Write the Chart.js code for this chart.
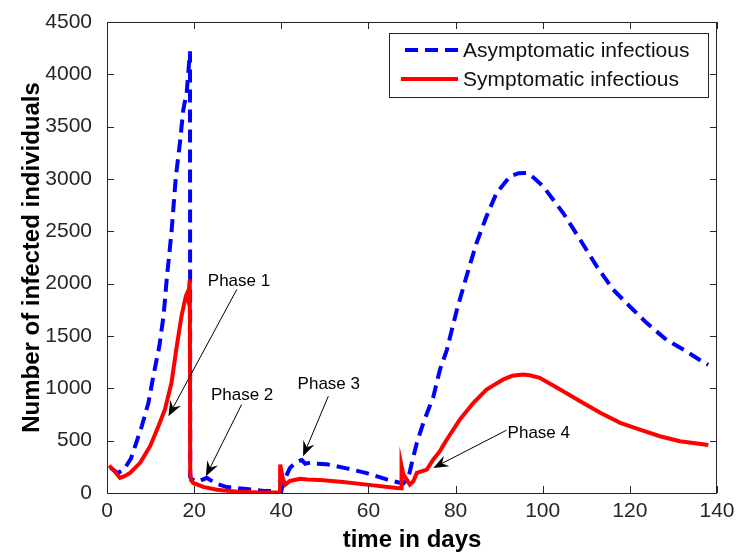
<!DOCTYPE html>
<html>
<head>
<meta charset="utf-8">
<script src="https://cdn.jsdelivr.net/npm/chart.js@4.4.1/dist/chart.umd.min.js"></script>
<style>
  html, body { margin: 0; padding: 0; background: #ffffff; }
  #wrap { width: 737px; height: 552px; }
</style>
</head>
<body>
<div id="wrap"><canvas id="c" width="737" height="552"></canvas></div>
<script>
// ---- data ----
const asymDays = [0.8, 2.5, 4, 5.5, 6.8, 8, 9.5, 10.6, 12, 13, 13.7, 14.8, 15.8, 16.75, 17.5, 18.3, 19.05,
  19.1, 19.5, 21, 22.9, 25, 27.5, 32, 36, 40,
  40.2, 41, 42, 43.5, 44.7, 45.5, 46.6, 48, 50.4, 55, 59.6, 64.2, 66.5, 68, 69.2, 70.2, 71.1, 72.6, 74.9,
  76.4, 78, 80.3, 82.5, 84.8, 87.1, 89.4, 92.5, 94.5, 96.3, 98, 100.1, 104.7, 108.6, 112.4, 116.2, 120,
  123.9, 128.4, 133, 137.2, 138];
const asymValues = [240, 190, 230, 330, 490, 640, 860, 1110, 1400, 1700, 2040, 2490, 3020, 3350, 3660, 3830, 4220,
  150, 130, 110, 145, 90, 57, 38, 20, 15,
  60, 150, 240, 300, 315, 280, 290, 280, 275, 235, 190, 130, 105, 90, 150, 330, 478, 670, 921,
  1176, 1368, 1750, 2069, 2388, 2643, 2866, 3025, 3055, 3058, 3010, 2930, 2675, 2420, 2165, 1942, 1782,
  1623, 1463, 1352, 1240, 1225];

const sympDays = [0.5, 1.5, 3, 4, 5.3, 7.6, 9.9, 11.8, 13.3, 14.8, 15.9, 17.1, 18.1, 18.3, 18.6, 19,
  19.1, 19.3, 19.8, 22.1, 25.2, 30, 35, 39.7,
  39.75, 40.3, 40.9, 42, 44.3, 46, 48.9, 54.2, 59.6, 66.5, 67.5,
  67.6, 68, 68.8, 69.5, 70.3, 71.1, 73.4, 74.9, 76.4, 78, 81, 84.1, 87.1, 90.9, 93, 95.5, 97, 99.3,
  104, 108.6, 113.2, 117.8, 122.3, 126.9, 131.5, 137.2, 138];
const sympValues = [262, 220, 145, 160, 192, 288, 447, 638, 798, 1053, 1372, 1690, 1881, 1900, 1850, 2040,
  200, 120, 96, 58, 32, 12, 5, 5,
  272, 150, 80, 115, 135, 128, 125, 105, 80, 48, 45,
  260, 180, 128, 80, 112, 192, 224, 320, 400, 511, 702, 862, 989, 1085, 1120, 1133, 1125, 1101,
  989, 877, 766, 670, 606, 542, 495, 463, 458];

const seriesNames = ['Asymptomatic infectious', 'Symptomatic infectious'];
const xTicks = [0, 20, 40, 60, 80, 100, 120, 140];
const yTicks = [0, 500, 1000, 1500, 2000, 2500, 3000, 3500, 4000, 4500];

// annotations (data coordinates)
const phaseLabels = ['Phase 1', 'Phase 2', 'Phase 3', 'Phase 4'];
const phaseTextX = [30.3, 31.0, 50.9, 99.1];
const phaseTextY = [2022, 935, 1037, 575];
const arrowFromX = [29.8, 30.9, 50.8, 91.7];
const arrowFromY = [1945, 846, 925, 600];
const arrowToX = [14.1, 22.7, 45.0, 74.9];
const arrowToY = [734, 160, 351, 240];

const toPts = (xs, ys) => xs.map((x, i) => ({ x: x, y: ys[i] }));

const AX = '#262626';
const FONT = '"Liberation Sans", Arial, sans-serif';

const overlay = {
  id: 'overlay',
  afterDatasetsDraw(chart) {
    const ctx = chart.ctx;
    const a = chart.chartArea;
    const xs = chart.scales.x, ys = chart.scales.y;
    ctx.save();
    // box
    ctx.strokeStyle = AX;
    ctx.lineWidth = 1;
    ctx.strokeRect(Math.round(a.left) + 0.5, Math.round(a.top) + 0.5,
      Math.round(a.right - a.left) - 1, Math.round(a.bottom - a.top));
    // inward ticks
    const tl = 7;
    ctx.beginPath();
    xTicks.forEach(v => {
      const px = Math.round(xs.getPixelForValue(v)) + 0.5;
      ctx.moveTo(px, a.bottom); ctx.lineTo(px, a.bottom - tl);
      ctx.moveTo(px, a.top); ctx.lineTo(px, a.top + tl);
    });
    yTicks.forEach(v => {
      const py = Math.round(ys.getPixelForValue(v)) + 0.5;
      ctx.moveTo(a.left, py); ctx.lineTo(a.left + tl, py);
      ctx.moveTo(a.right, py); ctx.lineTo(a.right - tl, py);
    });
    ctx.stroke();

    // annotations
    ctx.fillStyle = '#000';
    ctx.strokeStyle = '#000';
    ctx.font = '17px ' + FONT;
    ctx.textAlign = 'center';
    ctx.textBaseline = 'middle';
    phaseLabels.forEach((t, i) => {
      ctx.fillText(t, xs.getPixelForValue(phaseTextX[i]), ys.getPixelForValue(phaseTextY[i]));
      const x0 = xs.getPixelForValue(arrowFromX[i]), y0 = ys.getPixelForValue(arrowFromY[i]);
      const x1 = xs.getPixelForValue(arrowToX[i]), y1 = ys.getPixelForValue(arrowToY[i]);
      const ang = Math.atan2(y1 - y0, x1 - x0);
      const L = 15, W = 6;
      ctx.lineWidth = 1;
      ctx.beginPath();
      ctx.moveTo(x0, y0);
      ctx.lineTo(x1 - Math.cos(ang) * L * 0.6, y1 - Math.sin(ang) * L * 0.6);
      ctx.stroke();
      const bx = x1 - Math.cos(ang) * L, by = y1 - Math.sin(ang) * L;
      const nx = -Math.sin(ang), ny = Math.cos(ang);
      ctx.beginPath();
      ctx.moveTo(x1, y1);
      ctx.lineTo(bx + nx * W, by + ny * W);
      ctx.lineTo(x1 - Math.cos(ang) * L * 0.65, y1 - Math.sin(ang) * L * 0.65);
      ctx.lineTo(bx - nx * W, by - ny * W);
      ctx.closePath();
      ctx.fill();
    });

    // legend box
    const lx = 389.5, ly = 33.5, lw = 319, lh = 64;
    ctx.fillStyle = '#fff';
    ctx.fillRect(lx, ly, lw, lh);
    ctx.strokeStyle = AX;
    ctx.lineWidth = 1;
    ctx.strokeRect(lx, ly, lw, lh);
    const rows = [50, 79];
    chart.data.datasets.forEach((ds, i) => {
      ctx.strokeStyle = ds.borderColor;
      ctx.lineWidth = ds.borderWidth;
      ctx.setLineDash(ds.borderDash || []);
      ctx.beginPath();
      if (ds.borderDash && ds.borderDash.length) {
        ctx.moveTo(405, rows[i]); ctx.lineTo(458, rows[i]);
      } else {
        ctx.moveTo(401, rows[i]); ctx.lineTo(458, rows[i]);
      }
      ctx.stroke();
      ctx.setLineDash([]);
      ctx.fillStyle = '#111';
      ctx.font = '21px ' + FONT;
      ctx.textAlign = 'left';
      ctx.textBaseline = 'middle';
      ctx.fillText(ds.label, 463, rows[i] + 1);
    });
    ctx.restore();
  }
};

new Chart(document.getElementById('c'), {
  type: 'line',
  data: {
    datasets: [
      {
        label: seriesNames[0],
        data: toPts(asymDays, asymValues),
        borderColor: '#0000ff',
        borderWidth: 4,
        borderDash: [13, 7],
        pointRadius: 0,
        tension: 0,
        fill: false,
        order: 2
      },
      {
        label: seriesNames[1],
        data: toPts(sympDays, sympValues),
        borderColor: '#ff0000',
        borderWidth: 4,
        pointRadius: 0,
        tension: 0,
        fill: false,
        order: 1
      }
    ]
  },
  options: {
    responsive: false,
    animation: false,
    layout: { padding: { top: 22, right: 20, left: 0, bottom: 0 } },
    plugins: { legend: { display: false }, tooltip: { enabled: false } },
    scales: {
      x: {
        type: 'linear',
        min: 0, max: 140,
        afterBuildTicks: s => { s.ticks = xTicks.map(v => ({ value: v })); },
        grid: { display: false },
        border: { display: false },
        ticks: { color: AX, font: { family: FONT, size: 21, lineHeight: 1 }, padding: 0, maxRotation: 0,
          callback: v => String(v) },
        title: { display: true, text: 'time in days', color: '#000',
          font: { family: FONT, size: 24, weight: 'bold', lineHeight: 1 }, padding: { top: 0, bottom: 0 } },
        afterFit: s => { s.height = 59; }
      },
      y: {
        min: 0, max: 4500,
        afterBuildTicks: s => { s.ticks = yTicks.map(v => ({ value: v })); },
        grid: { display: false },
        border: { display: false },
        ticks: { color: AX, font: { family: FONT, size: 21 }, padding: 7, callback: v => String(v) },
        title: { display: true, text: 'Number of infected individuals', color: '#000',
          font: { family: FONT, size: 24, weight: 'bold', lineHeight: 1 }, padding: { top: 20, bottom: 0 } },
        afterFit: s => { s.width = 107; }
      }
    }
  },
  plugins: [overlay]
});
</script>
</body>
</html>
